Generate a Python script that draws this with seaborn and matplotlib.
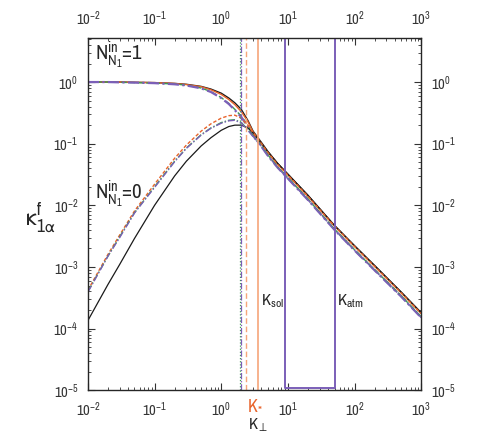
import matplotlib
matplotlib.use("Agg")
import matplotlib.pyplot as plt
import seaborn as sns

# sampled K values and read-off curve values
K = [0.01, 0.02, 0.03, 0.05, 0.1, 0.2, 0.3, 0.5, 0.7, 1.0, 1.3, 1.6, 2.0, 2.5, 3.0, 4.0, 5.0, 7.0, 10, 20, 50, 100, 200, 500, 1000]

upper_black  = [1.0, 1.0, 1.0, 0.99, 0.98, 0.95, 0.92, 0.85, 0.77, 0.66, 0.55, 0.46, 0.36, 0.24, 0.16, 0.105, 0.075, 0.048, 0.032, 0.0145, 0.0047, 0.0022, 0.00105, 0.00039, 0.00018]
upper_orange = [1.0, 1.0, 1.0, 0.99, 0.98, 0.95, 0.91, 0.84, 0.75, 0.63, 0.52, 0.43, 0.33, 0.23, 0.155, 0.102, 0.073, 0.047, 0.031, 0.014, 0.0046, 0.00215, 0.00102, 0.00038, 0.000175]
upper_green  = [1.0, 1.0, 0.99, 0.98, 0.96, 0.93, 0.89, 0.80, 0.70, 0.56, 0.45, 0.36, 0.28, 0.2, 0.14, 0.093, 0.066, 0.042, 0.028, 0.0126, 0.0041, 0.0019, 0.0009, 0.00034, 0.000155]
upper_purple = [1.0, 1.0, 0.99, 0.98, 0.96, 0.92, 0.88, 0.79, 0.69, 0.55, 0.44, 0.35, 0.27, 0.19, 0.135, 0.09, 0.064, 0.041, 0.0272, 0.0122, 0.004, 0.00185, 0.00088, 0.00033, 0.00015]

lower_black  = [0.000135, 0.00052, 0.0011, 0.0029, 0.01, 0.03, 0.052, 0.092, 0.125, 0.165, 0.19, 0.2, 0.2, 0.18, 0.15, 0.102, 0.074, 0.048, 0.032, 0.0145, 0.0047, 0.0022, 0.00105, 0.00039, 0.00018]
lower_orange = [0.00042, 0.0016, 0.0033, 0.0081, 0.022, 0.058, 0.095, 0.16, 0.21, 0.26, 0.285, 0.29, 0.26, 0.2, 0.15, 0.1, 0.072, 0.046, 0.031, 0.014, 0.0046, 0.00215, 0.00102, 0.00038, 0.000175]
lower_green  = [0.0004, 0.0015, 0.0031, 0.0076, 0.02, 0.052, 0.085, 0.14, 0.18, 0.22, 0.24, 0.245, 0.22, 0.17, 0.135, 0.092, 0.066, 0.042, 0.028, 0.0126, 0.0041, 0.0019, 0.0009, 0.00034, 0.000155]
lower_purple = [0.00039, 0.0015, 0.003, 0.0075, 0.0195, 0.051, 0.084, 0.138, 0.178, 0.215, 0.235, 0.24, 0.215, 0.165, 0.13, 0.09, 0.064, 0.041, 0.0272, 0.0122, 0.004, 0.00185, 0.00088, 0.00033, 0.00015]

# vertical markers
k_purple = 1.98
k_green = 1.93
k_star_dashed = 2.36
k_star = 3.53
k_sol = 9.1
k_atm = 51

black = "#1a1a1a"
orange = "#e8632a"
lorange = "#f6a57a"
green = "#3c9a50"
purple = "#7b5fb8"

sns.set_style("ticks")
plt.rcParams['font.family'] = ['Archivo Narrow', 'DejaVu Sans']
plt.rcParams['mathtext.fontset'] = 'custom'
plt.rcParams['mathtext.rm'] = 'Archivo Narrow'
plt.rcParams['mathtext.it'] = 'Archivo Narrow'
plt.rcParams['mathtext.sf'] = 'Archivo Narrow'
plt.rcParams['mathtext.fallback'] = 'stixsans'

fig = plt.figure(figsize=(4.91, 4.36), dpi=100)
ax = fig.add_axes([0.179, 0.105, 0.679, 0.808])

for vals, col, ls, lw in [(upper_black, black, '-', 1.0), (upper_orange, orange, '-', 1.0),
                          (upper_green, green, (0, (4, 2)), 1.0), (upper_purple, purple, (0, (5, 1.5, 1, 1.5)), 1.6),
                          (lower_black, black, '-', 0.9), (lower_orange, orange, (0, (2.5, 1.5)), 1.0),
                          (lower_green, green, (0, (5, 1.5, 1, 1.5)), 1.0), (lower_purple, purple, (0, (5, 1.5, 1, 1.5)), 1.0)]:
    sns.lineplot(x=K, y=vals, ax=ax, color=col, linestyle=ls, linewidth=lw)

ax.set_xscale('log')
ax.set_yscale('log')
ax.set_xlim(1e-2, 1e3)
ax.set_ylim(1e-5, 5.2)

ax.axvline(k_green, color=green, linestyle=(0, (1, 1.5)), linewidth=0.9)
ax.axvline(k_purple, color=purple, linestyle=(0, (5, 1.5, 1, 1.5)), linewidth=0.9)
ax.axvline(k_star_dashed, color=lorange, linestyle=(0, (4, 2)), linewidth=1.0)
ax.axvline(k_star, color=lorange, linestyle='-', linewidth=1.2)
ax.plot([k_sol, k_sol, k_atm, k_atm], [5.2, 1.08e-5, 1.08e-5, 5.2], color=purple, linewidth=1.4)

ax.tick_params(which='both', direction='in', top=True, right=True, labeltop=True, labelright=True,
               labelsize=10.5, colors='#333333')
ax.tick_params(which='major', length=5, pad=7)
ax.tick_params(which='minor', length=2.5)
for s in ax.spines.values():
    s.set_linewidth(1.0)

ax.text(0.02, 0.95, r'N$^{\mathrm{in}}_{\mathrm{N}_1}$=1', transform=ax.transAxes, fontsize=15, va='center')
ax.text(0.02, 0.555, r'N$^{\mathrm{in}}_{\mathrm{N}_1}$=0', transform=ax.transAxes, fontsize=15, va='center')
ax.text(-0.145, 0.49, r'$\mathrm{\kappa}^{\mathrm{f}}_{\mathrm{1\alpha}}$', transform=ax.transAxes, fontsize=18, ha='center', va='center')
ax.text(0.589, 0.24, r'K$_{\mathrm{sol}}$', transform=ax.transAxes, fontsize=12, ha='right')
ax.text(0.748, 0.24, r'K$_{\mathrm{atm}}$', transform=ax.transAxes, fontsize=12, ha='left')
ax.text(0.5, -0.04, r'K$_{*}$', transform=ax.transAxes, fontsize=13, ha='center', va='center', color=orange)
ax.text(0.51, -0.1, r'K$_{\perp}$', transform=ax.transAxes, fontsize=12, ha='center', va='center')

fig.savefig('out.png', dpi=100)
